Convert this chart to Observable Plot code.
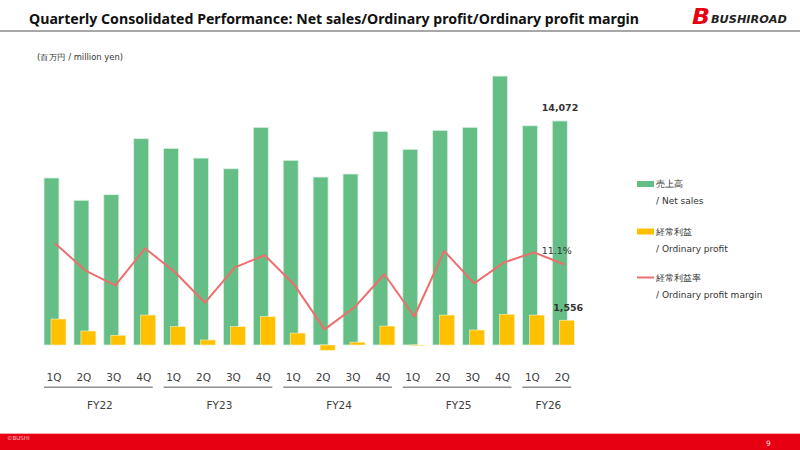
<!DOCTYPE html>
<html><head><meta charset="utf-8">
<script src="https://cdn.jsdelivr.net/npm/d3@7"></script>
<script src="https://cdn.jsdelivr.net/npm/@observablehq/plot@0.6"></script>
<style>
html,body{margin:0;padding:0;background:#fff;}
#wrap{position:relative;width:800px;height:450px;overflow:hidden;font-family:"DejaVu Sans",sans-serif;}
#wrap > svg{position:absolute;left:0;top:0;}
</style></head><body>
<div id="wrap">
<svg id="deco" width="800" height="450" xmlns="http://www.w3.org/2000/svg">
  <text x="29" y="23.5" font-family="Noto Sans" font-weight="bold" font-size="14" fill="#111" textLength="610" lengthAdjust="spacingAndGlyphs">Quarterly Consolidated Performance: Net sales/Ordinary profit/Ordinary profit margin</text>
  <text x="692" y="23.5" font-family="DejaVu Sans" font-weight="bold" font-style="italic" font-size="21" fill="#E60012" textLength="18" lengthAdjust="spacingAndGlyphs">B</text>
  <text x="711" y="23" font-family="DejaVu Sans" font-weight="bold" font-style="italic" font-size="11" fill="#222" textLength="76" lengthAdjust="spacingAndGlyphs">BUSHIROAD</text>
  <line x1="0" x2="800" y1="31" y2="31" stroke="#8a8a8a" stroke-width="1.5"/>
  <text x="37" y="60" font-family="DejaVu Sans" font-size="8" fill="#333" textLength="86" lengthAdjust="spacingAndGlyphs">(百万円 / million yen)</text>
  <rect x="0" y="434" width="800" height="16" fill="#E60012"/>
  <line x1="0" x2="800" y1="433.5" y2="433.5" stroke="#F5A5AB" stroke-width="1"/>
  <text x="7" y="440" font-family="DejaVu Sans" font-size="5.5" fill="#F9C4C8">©BUSHI</text>
  <text x="766" y="446" font-family="DejaVu Sans" font-size="7.5" fill="#FCE0E2">9</text>
  <g id="legend" font-family="DejaVu Sans" font-size="9" fill="#333"></g>
</svg>
</div>
<script>
// ---- data ----
const fiscalYears = ["FY22","FY22","FY22","FY22","FY23","FY23","FY23","FY23","FY24","FY24","FY24","FY24","FY25","FY25","FY25","FY25","FY26","FY26"];
const quarters = ["1Q","2Q","3Q","4Q","1Q","2Q","3Q","4Q","1Q","2Q","3Q","4Q","1Q","2Q","3Q","4Q","1Q","2Q"];
const netSales = [10490, 9090, 9440, 12960, 12350, 11740, 11070, 13670, 11600, 10550, 10740, 13420, 12290, 13480, 13670, 16890, 13770, 14072];
const ordinaryProfit = [1630, 880, 610, 1880, 1150, 315, 1150, 1780, 750, -330, 180, 1190, -40, 1880, 940, 1930, 1880, 1556];
const legendLabels = [["売上高","/ Net sales"],["経常利益","/ Ordinary profit"],["経常利益率","/ Ordinary profit margin"]];

const colors = {sales:"#64BE86", profit:"#FFC000", margin:"#EE6E6E"};

const rows = netSales.map((s, i) => ({
  key: fiscalYears[i] + " " + quarters[i],
  fy: fiscalYears[i], q: quarters[i],
  sales: s, profit: ordinaryProfit[i],
  margin: ordinaryProfit[i] / s * 100
}));
const keys = rows.map(d => d.key);
const last = rows.slice(-1);

const W = 800, H = 450, ML = 44, MR = 225.7, MT = 58.4, MB = 105;
const xScale = {type:"band", domain: keys, paddingInner: 0.264, paddingOuter: 0, round: false, axis: null};
const common = {width: W, height: H, marginLeft: ML, marginRight: MR, marginTop: MT, marginBottom: MB,
  style: {background: "transparent", overflow: "visible", fontFamily: "DejaVu Sans"}};

const chart = Plot.plot({
  ...common,
  x: xScale,
  y: {domain: [0, 18000], axis: null},
  marks: [
    Plot.barY(rows, {x: "key", y: "sales", fill: colors.sales, insetRight: 7, stroke: "#DDF1E4", strokeWidth: 0.8}),
    Plot.barY(rows, {x: "key", y: "profit", fill: colors.profit, insetLeft: 7, stroke: "#FFF0C0", strokeWidth: 0.6}),
    Plot.axisX({tickSize: 0, tickPadding: 28.5, label: null, tickFormat: k => k.split(" ")[1], fontSize: 10.5, fill: "#404040", dx: -1.5}),
    Plot.text(last, {x: "key", y: "sales", text: d => d3.format(",")(d.sales), dx: -3.8, dy: -13.3, fontSize: 9.5, fontWeight: "bold", fill: "#333"}),
    Plot.text(last, {x: "key", y: "profit", text: d => d3.format(",")(d.profit), dx: 4.4, dy: -12.3, fontSize: 9.5, fontWeight: "bold", fill: "#333"})
  ]
});

const marginChart = Plot.plot({
  ...common,
  x: xScale,
  y: {domain: [-6.645, 55.79], axis: null},
  marks: [
    Plot.lineY(rows, {x: "key", y: "margin", stroke: colors.margin, strokeWidth: 2}),
    Plot.text(last, {x: "key", y: "margin", text: d => d3.format(".1f")(d.margin) + "%", dx: -7, dy: -13, fontSize: 9.5, fill: "#333"})
  ]
});

const wrap = document.getElementById("wrap");
wrap.appendChild(chart);
wrap.appendChild(marginChart);

// fiscal-year group underlines and labels, positioned through the x scale
const xs = chart.scale("x");
const svg = d3.select(chart);
const groups = Array.from(new Set(fiscalYears));
groups.forEach(g => {
  const ks = keys.filter(k => k.startsWith(g + " "));
  const x0 = xs.apply(ks[0]);
  const x1 = xs.apply(ks[ks.length - 1]) + xs.bandwidth;
  svg.append("line").attr("x1", x0).attr("x2", x1 - 3).attr("y1", 387.3).attr("y2", 387.3)
    .attr("stroke", "#8f8f8f").attr("stroke-width", 1.5);
  svg.append("text").attr("x", (x0 + x1) / 2).attr("y", 405).attr("dy", "0.35em")
    .attr("text-anchor", "middle").attr("font-size", 10.5).attr("fill", "#404040")
    .attr("font-family", "DejaVu Sans").text(g);
});

// legend
const lg = d3.select("#legend");
const ys = [184, 231.5, 277.5];
legendLabels.forEach((lab, i) => {
  if (i < 2) lg.append("rect").attr("x", 637).attr("y", ys[i] - 3).attr("width", 17).attr("height", 6)
      .attr("fill", i === 0 ? colors.sales : colors.profit);
  else lg.append("line").attr("x1", 637).attr("x2", 654).attr("y1", ys[i]).attr("y2", ys[i])
      .attr("stroke", colors.margin).attr("stroke-width", 2);
  lg.append("text").attr("x", 655.5).attr("y", ys[i]).attr("dy", "0.35em").text(lab[0]);
  lg.append("text").attr("x", 656).attr("y", ys[i] + 17).attr("dy", "0.35em").text(lab[1]);
});
</script>
</body></html>
